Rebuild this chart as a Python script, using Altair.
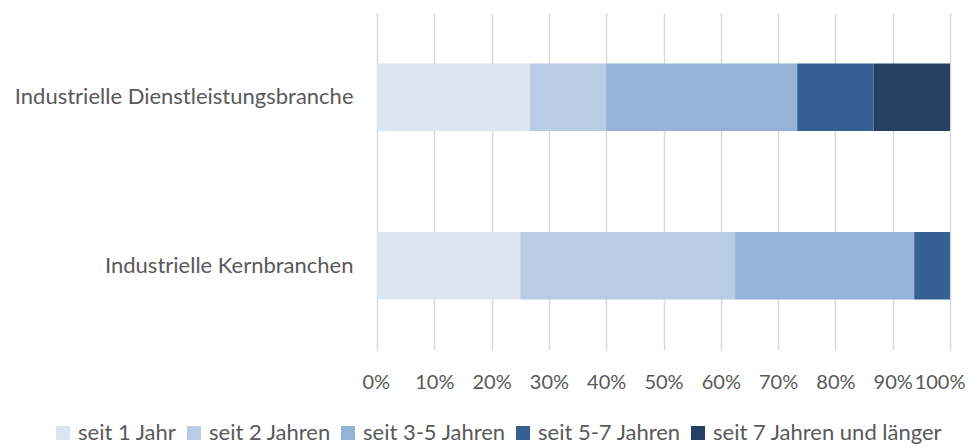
import altair as alt
import pandas as pd

branches = ["Industrielle Dienstleistungsbranche", "Industrielle Kernbranchen"]
categories = ["seit 1 Jahr", "seit 2 Jahren", "seit 3-5 Jahren", "seit 5-7 Jahren", "seit 7 Jahren und länger"]
dienst_values = [26.67, 13.33, 33.33, 13.33, 13.34]
kern_values = [25.0, 37.5, 31.25, 6.25, 0.0]
colors = ["#DCE6F1", "#B8CCE4", "#95B3D7", "#366092", "#254061"]

rows = []
for b, vals in zip(branches, [dienst_values, kern_values]):
    for i, (c, v) in enumerate(zip(categories, vals)):
        rows.append({"branche": b, "kategorie": c, "wert": v / 100.0, "ord": i})
df = pd.DataFrame(rows)

font = "Lato"
text_color = "#595959"
chart = alt.Chart(df).mark_bar().encode(
    y=alt.Y("branche:N", sort=branches, title=None,
            scale=alt.Scale(paddingInner=0.6, paddingOuter=0.3),
            axis=alt.Axis(ticks=False, domain=False, labelPadding=24, labelFontSize=22,
                          labelColor=text_color, labelFont=font, grid=False, labelLimit=500)),
    x=alt.X("wert:Q", stack="zero", title=None,
            scale=alt.Scale(domain=[0, 1], nice=False),
            axis=alt.Axis(format=".0%", values=[i / 10 for i in range(11)], ticks=False, domain=False,
                          labelPadding=22, labelFontSize=20, labelColor=text_color, labelFont=font,
                          labelFlush=True, labelFlushOffset=15, labelOverlap=False, labelBound=False,
                          grid=True, gridColor="#D9D9D9", gridWidth=1.5)),
    color=alt.Color("kategorie:N", sort=categories,
                    scale=alt.Scale(domain=categories, range=colors),
                    legend=alt.Legend(title=None, orient="none", direction="horizontal",
                                      legendX=-325, legendY=409, padding=0,
                                      symbolType="square", symbolSize=196,
                                      symbolStrokeWidth=0, labelFontSize=22, labelColor=text_color,
                                      labelFont=font, columnPadding=6, labelOffset=4, labelLimit=500)),
    order=alt.Order("ord:Q"),
).properties(
    width=573, height=337,
    autosize=alt.AutoSizeParams(type="none"),
    padding={"left": 369, "top": 5, "right": 18, "bottom": 96},
).configure_view(stroke=None)

chart.save("out.html", embed_options={"renderer": "svg", "actions": False})
